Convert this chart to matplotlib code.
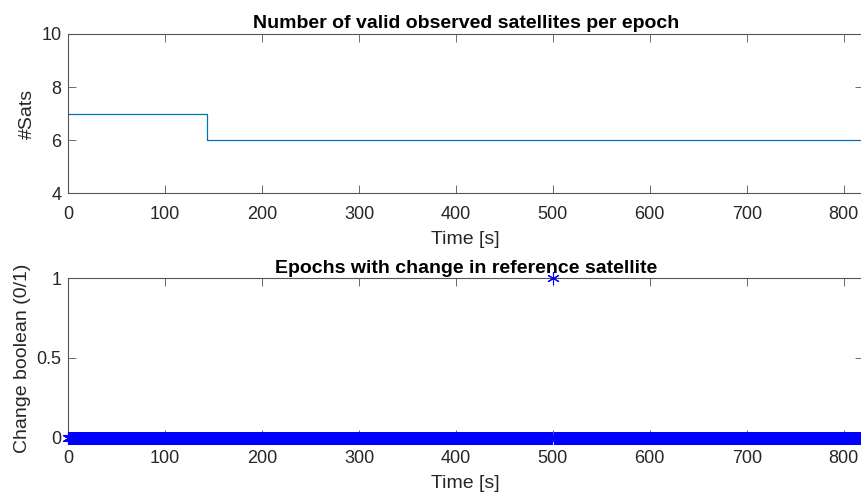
import numpy as np
import matplotlib
matplotlib.use("Agg")
import matplotlib.pyplot as plt

plt.rcParams['font.family'] = ['Liberation Sans', 'DejaVu Sans']

# epochs (1 s spacing)
t_first = 0
t_last = 819
# number of satellites: value holds from each switch time on
sat_switch_times = [0, 143, 819]
sat_counts = [7, 6, 6]
# epochs where the reference satellite changed
change_epochs = [500]

epochs = np.arange(t_first, t_last + 1)
change = np.isin(epochs, change_epochs).astype(int)

W, H = 862, 494
fig = plt.figure(figsize=(W / 100, H / 100), dpi=100)

ax_col = '#555555'
txt_col = '#262626'


def style(ax):
    for s in ax.spines.values():
        s.set_color(ax_col)
        s.set_linewidth(0.8)
    ax.tick_params(direction='in', length=5.5, width=0.6, color=ax_col,
                   top=True, right=True, labelsize=13, labelcolor=txt_col)
    ax.tick_params(axis='x', pad=9)
    ax.tick_params(axis='y', pad=5)


ax1 = fig.add_axes([68.3 / W, 1 - 193.3 / H, (863 - 68.3) / W, (193.3 - 34) / H])
ax1.step(sat_switch_times, sat_counts, where='post', color='#0072BD', lw=0.9)
ax1.set_xlim(0, 820)
ax1.set_ylim(4, 10)
ax1.set_xticks(range(0, 801, 100))
ax1.set_yticks([4, 6, 8, 10])
ax1.set_xlabel('Time [s]', fontsize=14, color=txt_col, labelpad=6)
ax1.set_ylabel('#Sats', fontsize=14, color=txt_col, labelpad=4)
ax1.set_title('Number of valid observed satellites per epoch', fontsize=14,
              fontweight='bold', pad=4)
style(ax1)

ax2 = fig.add_axes([68.3 / W, 1 - 437.5 / H, (863 - 68.3) / W, (437.5 - 278.3) / H])
ax2.plot(epochs, change, linestyle='none', marker=(6, 2, 0), markersize=9,
         markeredgewidth=0.8, color='#0000FF', clip_on=False, zorder=3)
ax2.set_xlim(0, 820)
ax2.set_ylim(0, 1)
ax2.set_xticks(range(0, 801, 100))
ax2.set_yticks([0, 0.5, 1])
ax2.set_yticklabels(['0', '0.5', '1'])
ax2.set_xlabel('Time [s]', fontsize=14, color=txt_col, labelpad=6)
ax2.set_ylabel('Change boolean (0/1)', fontsize=14, color=txt_col, labelpad=4)
ax2.set_title('Epochs with change in reference satellite', fontsize=14,
              fontweight='bold', pad=4)
style(ax2)

fig.savefig('out.png', dpi=100)
